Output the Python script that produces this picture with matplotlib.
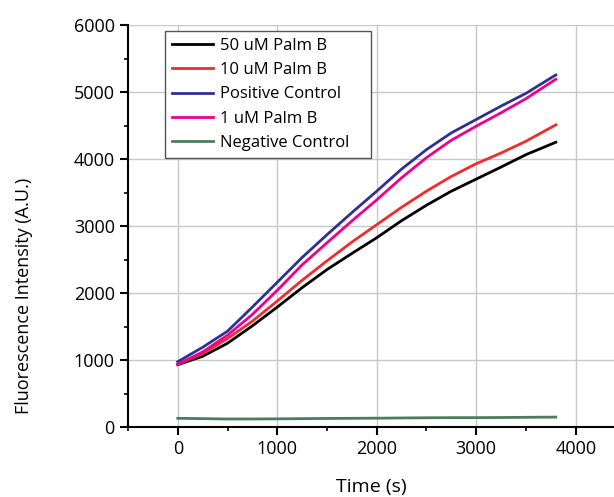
import matplotlib
matplotlib.use("Agg")
import matplotlib.pyplot as plt
from matplotlib.ticker import MultipleLocator

plt.rcParams['font.family'] = ['Open Sans', 'DejaVu Sans']

# time points (s)
time_s = [0, 250, 500, 750, 1000, 1250, 1500, 1750, 2000, 2250, 2500, 2750, 3000, 3250, 3500, 3800]

palm_50 = [930, 1055, 1250, 1510, 1790, 2080, 2350, 2590, 2825, 3080, 3310, 3520, 3700, 3880, 4065, 4250]
palm_10 = [940, 1095, 1320, 1580, 1880, 2190, 2480, 2760, 3020, 3280, 3520, 3740, 3930, 4090, 4265, 4510]
positive = [975, 1190, 1430, 1790, 2160, 2530, 2870, 3200, 3520, 3850, 4140, 4390, 4590, 4790, 4980, 5255]
palm_1 = [935, 1120, 1370, 1680, 2040, 2420, 2750, 3075, 3390, 3720, 4020, 4280, 4490, 4690, 4900, 5190]
negative = [130, 125, 120, 120, 122, 125, 128, 130, 132, 135, 138, 140, 140, 142, 145, 148]

labels = ["50 uM Palm B", "10 uM Palm B", "Positive Control", "1 uM Palm B", "Negative Control"]
colors = ["#000000", "#ee2d2d", "#2e3192", "#ec008c", "#4b7d5c"]
series = [palm_50, palm_10, positive, palm_1, negative]

fig = plt.figure(figsize=(6.14, 4.97), dpi=100)
ax = fig.add_axes([0.2085, 0.1408, 0.7915, 0.8089])

for vals, lab, col in zip(series, labels, colors):
    ax.plot(time_s, vals, color=col, lw=2, label=lab)

ax.set_xlim(-500, 4385)
ax.set_ylim(0, 6000)
ax.xaxis.set_major_locator(MultipleLocator(1000))
ax.xaxis.set_minor_locator(MultipleLocator(500))
ax.yaxis.set_major_locator(MultipleLocator(1000))
ax.yaxis.set_minor_locator(MultipleLocator(500))

ax.grid(True, which='major', color='#c8c8c8', lw=1)
ax.set_axisbelow(True)
for s in ['top', 'right']:
    ax.spines[s].set_visible(False)
for s in ['left', 'bottom']:
    ax.spines[s].set_linewidth(1.5)
ax.tick_params(which='major', direction='out', length=6, width=1.5, labelsize=13)
ax.tick_params(which='minor', direction='out', length=3, width=1.2)

ax.set_xlabel("Time (s)", fontsize=14, labelpad=14)
ax.set_ylabel("Fluorescence Intensity (A.U.)", fontsize=13)
ax.yaxis.set_label_coords(-0.195, 0.326)

leg = ax.legend(loc='upper left',
                bbox_to_anchor=(165 / 614, 1 - 151 / 497, 206 / 614, 120 / 497),
                bbox_transform=fig.transFigure, mode='expand',
                fontsize=12, fancybox=False,
                framealpha=1, edgecolor='#555555', handlelength=2.5,
                labelspacing=0.5, borderpad=0.4, handletextpad=0.4,
                borderaxespad=0)
leg.get_frame().set_linewidth(1)

fig.savefig("out.png", dpi=100)
